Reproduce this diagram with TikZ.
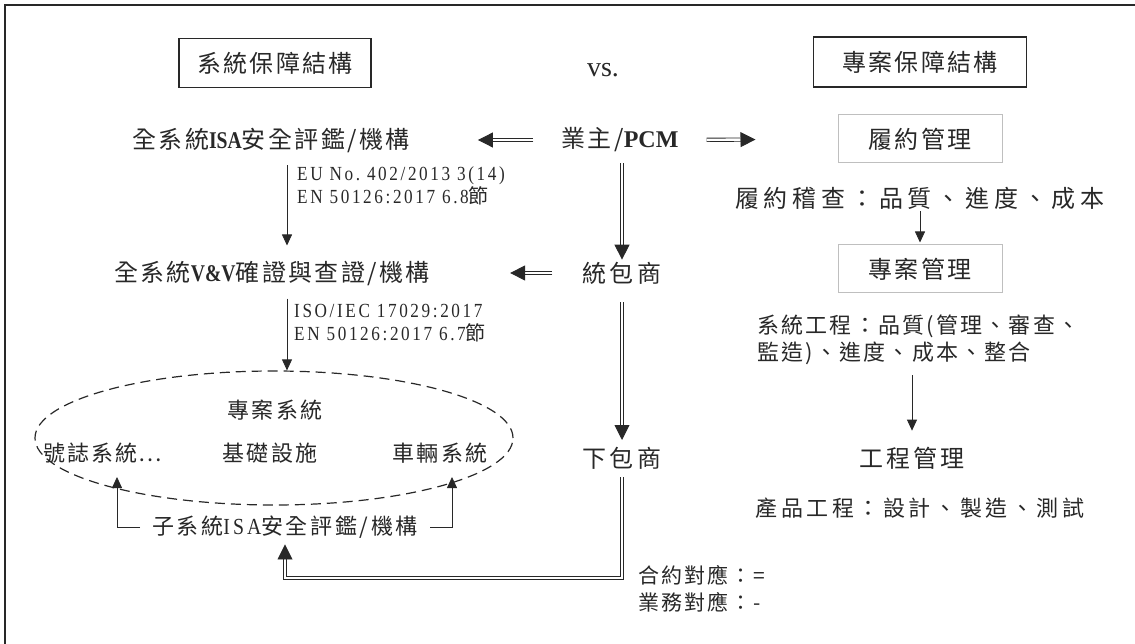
\documentclass[tikz,border=0pt]{standalone}
\usepackage{fontspec}
\setmainfont{Liberation Serif}
\newfontfamily\cjk{Noto Sans CJK TC}
\newfontfamily\cond[FakeStretch=0.86,LetterSpace=13]{Liberation Serif}
\newfontfamily\bcond[FakeStretch=0.82]{Liberation Serif}
\usetikzlibrary{arrows.meta,shapes.geometric}
\definecolor{ink}{RGB}{40,40,40}
\newcommand{\cs}[2]{\fontsize{#1}{#1}\cjk\addfontfeature{LetterSpace=#2}}
\tikzset{
  lbl/.style={inner sep=0pt, text=ink},
  titlebox/.style={draw=ink, line width=1.4pt, inner sep=0pt, text=ink, font=\cs{24}{10}},
  graybox/.style={draw=black!25, line width=1pt, inner sep=0pt, text=ink, font=\cs{24}{10}, minimum width=164pt, minimum height=48pt},
  sarrow/.style={draw=ink, line width=0.8pt, -{Triangle[length=11pt,width=10pt]}},
  darrow/.style={draw=ink, double=white, double distance=2.4pt, line width=0.9pt, -{Triangle[length=15pt,width=15pt]}},
  note/.style={inner sep=0pt, text=ink, align=left, font=\fontsize{20}{23}\cond}
}
\begin{document}
\begin{tikzpicture}[x=1pt,y=-1pt]
\useasboundingbox (0,0) rectangle (1135,644);
\draw[ink, line width=1.6pt] (5,644) -- (5,5) -- (1135,5);

% titles
\node[titlebox, minimum width=192pt, minimum height=49pt] (t1) at (275,63) {系統保障結構};
\node[lbl, font=\fontsize{28}{30}\selectfont] (vs) at (603,70) {vs.};
\node[titlebox, minimum width=213pt, minimum height=50pt] (t2) at (920,62) {專案保障結構};

% row 1
\node[lbl, font=\cs{24}{10}] (isa) at (271,140) {全系統{\bcond\bfseries ISA}安全評鑑/機構};
\node[lbl, font=\cs{24}{10}] (pcm) at (620,140) {業主/{\rmfamily\bfseries\addfontfeature{LetterSpace=0} PCM}};
\node[graybox] (lv) at (920,139) {履約管理};

\draw[darrow, shorten <=28pt, shorten >=68pt] (pcm.west) -- (isa.east);
\draw[darrow, shorten <=28pt, shorten >=82pt] (pcm.east) -- (lv.west);

% row 2
\node[lbl, font=\cs{24}{10}] (vv) at (272,273) {全系統{\bcond\bfseries V\&V}確證與查證/機構};
\node[lbl, font=\cs{24}{14}] (tb) at (622,273) {統包商};
\coordinate (cx) at (287,0);
\coordinate (px) at (622,0);

\draw[sarrow, shorten <=13pt, shorten >=15pt] (isa.south -| cx) -- (vv.north -| cx);
\node[note, anchor=north west] (n1) at (297,166) {EU No.\ 402/2013 3(14)\\EN 50126:2017 6.8{\cjk 節}};

\draw[darrow, shorten <=11pt, shorten >=2pt] (pcm.south -| px) -- (tb.north);
\draw[darrow, shorten <=18pt, shorten >=0pt] (tb.south) -- (622,440);
\draw[darrow, shorten <=30pt, shorten >=80pt] (tb.west) -- (vv.east);

% ellipse
\node[draw=ink, dashed, dash pattern=on 10pt off 6pt, line width=1.2pt, ellipse, minimum width=478pt, minimum height=134pt, inner sep=0pt] (el) at (274,438) {};
\draw[sarrow, shorten <=13pt] (vv.south -| cx) -- (el.north -| cx);
\node[note, anchor=north west] (n2) at (294,304) {ISO/IEC 17029:2017\\EN 50126:2017 6.7{\cjk 節}};

\node[lbl, font=\cs{22}{12}] (zs) at (275,410) {專案系統};
\node[lbl, font=\cs{22}{8}] (hz) at (103,453) {號誌系統…};
\node[lbl, font=\cs{22}{12}] (jc) at (270,453) {基礎設施};
\node[lbl, font=\cs{22}{12}] (cl) at (440,453) {車輛系統};

\node[lbl, font=\cs{22}{12}] (sub) at (285,527) {子系統{\cond\fontsize{23}{23}\selectfont ISA}安全評鑑/機構};
\coordinate (la) at (117,477);
\coordinate (ra) at (452,477);
\draw[sarrow] ([xshift=-12pt]sub.west) -| (la);
\draw[sarrow] ([xshift=12pt]sub.east) -| (ra);

% down to subcontractor
\node[lbl, font=\cs{24}{14}] (xb) at (622,458) {下包商};
\coordinate (bot) at (0,578);
\draw[darrow, shorten <=8pt, shorten >=6pt] (xb.south) -- (xb.south |- bot) -| (sub.south);

% legend
\node[lbl, anchor=north west, align=left, font=\fontsize{21}{27}\cjk\addfontfeature{LetterSpace=10}] (lg) at (638,565) {合約對應：=\\業務對應：-};

% right column
\node[lbl, font=\cs{24}{20}] (lyjc) at (920,198) {履約稽查：品質、進度、成本};
\node[graybox] (pm) at (920,269) {專案管理};
\draw[sarrow, shorten <=2pt, shorten >=2pt] (lyjc.south) -- (pm.north);

\node[lbl, anchor=north west, align=left, font=\fontsize{22}{27}\cjk\addfontfeature{LetterSpace=10}] (xt) at (757,315) {系統工程：品質(管理、審查、\\監造)、進度、成本、整合};
\node[lbl, font=\cs{24}{12}] (gc) at (912,458) {工程管理};
\draw[sarrow, shorten <=10pt, shorten >=16pt] (xt.south -| gc.north) -- (gc.north);
\node[lbl, font=\cs{22}{16}] (cp) at (920,508) {產品工程：設計、製造、測試};
\end{tikzpicture}
\end{document}
